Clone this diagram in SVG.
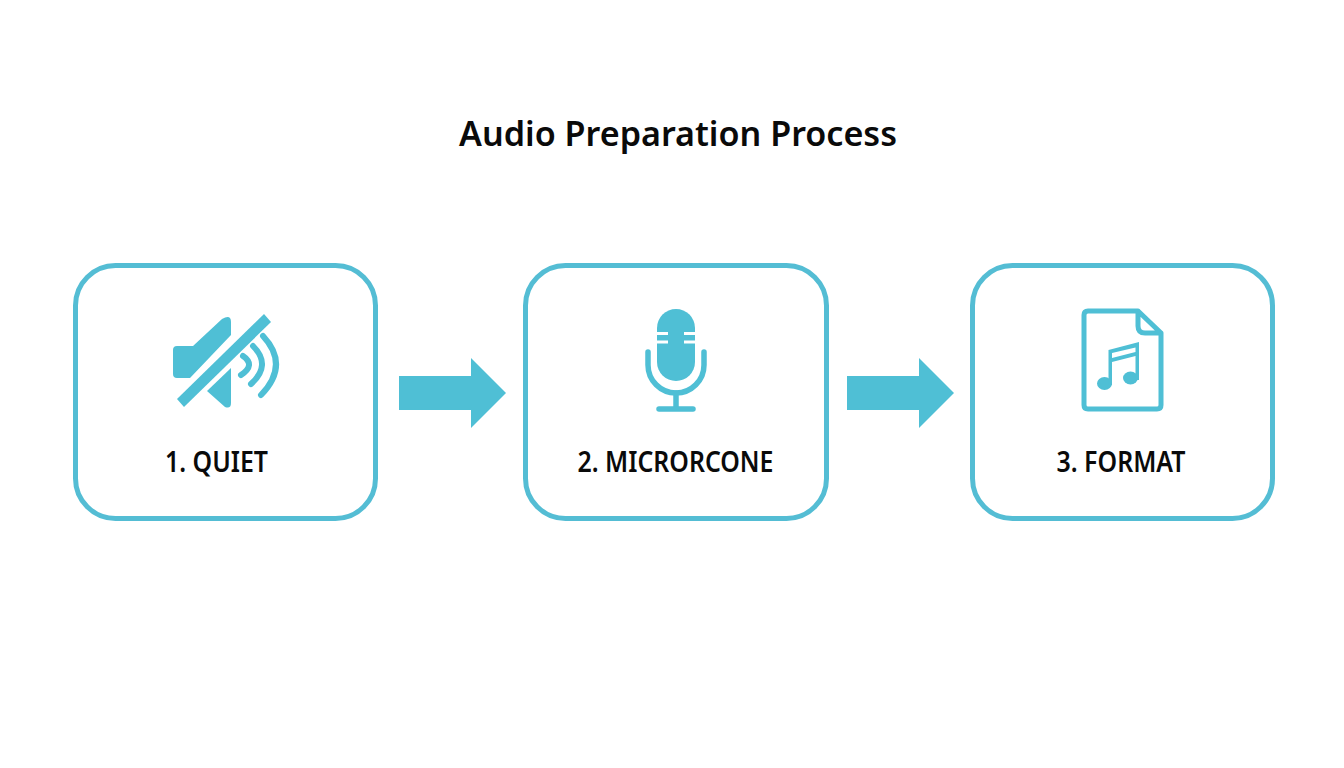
<svg xmlns="http://www.w3.org/2000/svg" width="1344" height="768" viewBox="0 0 1344 768">
<style>
.card{fill:#fff;stroke:#54bdd4;stroke-width:5}
.t{font-family:"Noto Sans","Liberation Sans",sans-serif;font-weight:600;fill:#0a0a0a;text-anchor:middle}
.lab{font-size:28px}
.f{fill:#4fbfd5}
.s{fill:none;stroke:#4fbfd5;stroke-linecap:round;stroke-linejoin:round}
</style>
<rect width="1344" height="768" fill="#fff"/>
<text id="title" class="t" x="678" y="146" font-size="35" textLength="438" lengthAdjust="spacingAndGlyphs">Audio Preparation Process</text>
<g id="node-quiet">
<rect class="card" x="75.500" y="265.500" width="300" height="253" rx="40"/>
<path class="f" d="M177 346H193L222 319Q231 314 231 322V335L190 378H177Q173 378 173 374V350Q173 346 177 346Z"/>
<path class="f" d="M207 391L231 368V403Q231 409 225 407Z"/>
<path class="f" d="M264 314L271 322L184 407L177 399Z"/>
<path class="s" stroke-width="6" d="M243 356Q256 365 241 375M253 346Q272 365 251 384M263 336Q290 365 261 395"/>
<text class="t lab" x="216.500" y="472" textLength="103" lengthAdjust="spacingAndGlyphs">1. QUIET</text>
</g>
<g id="node-microphone">
<rect class="card" x="525.500" y="265.500" width="301" height="253" rx="40"/>
<path class="f" d="M657 328A19 19 0 0 1 695 328V362A19 19 0 0 1 657 362Z"/>
<path fill="none" stroke="#fff" stroke-width="3" d="M655 333.500H668M684 333.500H697M655 342H668M684 342H697"/>
<path class="s" stroke-width="5.500" d="M648 352V365A28 28 0 0 0 704 365V352"/>
<path class="s" stroke-width="5.500" d="M676 393V408"/>
<path class="s" stroke-width="5.500" d="M659 409H693"/>
<text class="t lab" x="675.500" y="472" textLength="196" lengthAdjust="spacingAndGlyphs">2. MICRORCONE</text>
</g>
<g id="node-format">
<rect class="card" x="972.500" y="265.500" width="300" height="253" rx="40"/>
<path class="s" stroke-width="5" d="M1138 311H1088Q1084 311 1084 315V405Q1084 409 1088 409H1157Q1161 409 1161 405V333ZM1138 311V326Q1138 333 1145 333H1161"/>
<ellipse class="f" cx="1104.500" cy="383.500" rx="7.500" ry="6.500"/>
<ellipse class="f" cx="1130.500" cy="378" rx="7.500" ry="6.500"/>
<path class="f" d="M1108.500 350L1139 342V380H1135.500V356L1112 362V385H1108.500ZM1112 353V358L1135.500 352V347.500Z" fill-rule="evenodd"/>
<text class="t lab" x="1121" y="472" textLength="129" lengthAdjust="spacingAndGlyphs">3. FORMAT</text>
</g>
<g id="connectors">
<polygon class="f" points="399,376 471,376 471,358 506,393 471,428 471,410 399,410"/>
<polygon class="f" points="847,376 919,376 919,358 954,393 919,428 919,410 847,410"/>
</g>
</svg>
